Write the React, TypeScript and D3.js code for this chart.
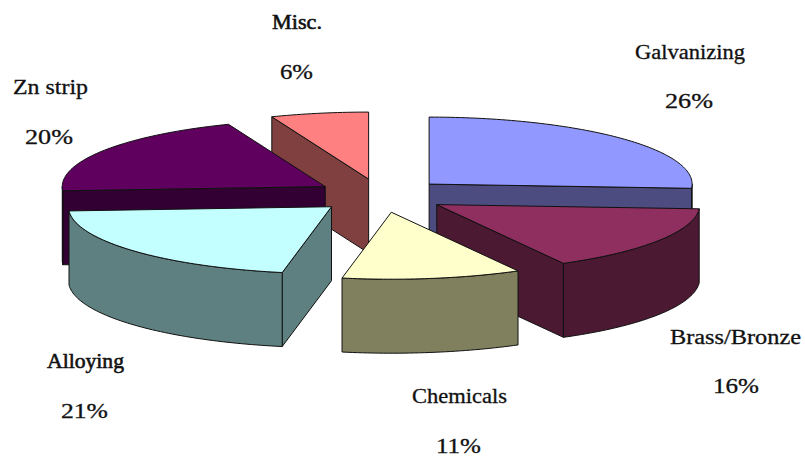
import React from "react";
import * as d3 from "d3";

const categories = ["Galvanizing", "Brass/Bronze", "Chemicals", "Alloying", "Zn strip", "Misc."];
const shares = [26, 16, 11, 21, 20, 6];
const topColors = ["#9198ff", "#8f2f5f", "#ffffcc", "#c4ffff", "#5f005f", "#ff8080"];
const wallColors = ["#4c4c80", "#4c1933", "#80805f", "#5f8080", "#330033", "#804040"];

// painter's order, by index into categories
const paintOrder = [5, 4, 3, 0, 1, 2];

// label layout: left edge, right edge, baseline
const nameBoxes = [
  [635, 745, 59],
  [670, 801, 344],
  [412, 507, 403],
  [47, 124, 368],
  [13, 88, 94],
  [272, 322, 29],
];
const percentBoxes = [
  [665, 713, 108],
  [713, 759, 393],
  [436, 481, 453],
  [61, 108, 418],
  [25, 73, 144],
  [280, 313, 79],
];

const W = 805;
const H = 459;
const CX = 381;
const CY = 195.6;
const RX = 263;
const RY = 67;
const DEPTH = 74;
const EXPLODE = 66;

const sx = d3.scaleLinear().domain([-1, 1]).range([-RX, RX]);
const sy = d3.scaleLinear().domain([-1, 1]).range([-RY, RY]);
const line = d3.line<[number, number]>();

const pie = d3.pie<number>().sort(null).value((d) => d);
const arcs = pie(shares);

function rimPoint(a: number, ox: number, oy: number): [number, number] {
  return [ox + sx(Math.sin(a)), oy - sy(Math.cos(a))];
}

function rim(a0: number, a1: number, ox: number, oy: number): [number, number][] {
  const n = Math.max(2, Math.ceil(Math.abs(a1 - a0) / 0.02));
  return d3.range(n + 1).map((i) => rimPoint(a0 + ((a1 - a0) * i) / n, ox, oy));
}

function Slice({ i }: { i: number }) {
  const { startAngle: a0, endAngle: a1 } = arcs[i];
  const mid = (a0 + a1) / 2;
  const ox = CX + (EXPLODE * sx(Math.sin(mid))) / RX;
  const oy = CY - (EXPLODE * sy(Math.cos(mid))) / RX;
  const apex: [number, number] = [ox, oy];
  const down = (p: [number, number]): [number, number] => [p[0], p[1] + DEPTH];

  const walls: [number, number][][] = [];
  if (Math.sin(a0) < -1e-6) {
    const p = rimPoint(a0, ox, oy);
    walls.push([apex, p, down(p), down(apex)]);
  }
  if (Math.sin(a1) > 1e-6) {
    const p = rimPoint(a1, ox, oy);
    walls.push([apex, p, down(p), down(apex)]);
  }
  const f0 = Math.max(a0, Math.PI / 2);
  const f1 = Math.min(a1, (3 * Math.PI) / 2);
  if (f1 > f0) {
    const top = rim(f0, f1, ox, oy);
    walls.push([...top, ...top.slice().reverse().map(down)]);
  }
  const topFace = [apex, ...rim(a0, a1, ox, oy)];
  const stroke = "#111";
  return (
    <g>
      {walls.map((w, k) => (
        <path key={k} d={line(w) + "Z"} fill={wallColors[i]} stroke={stroke} strokeWidth={1} strokeLinejoin="round" />
      ))}
      <path d={line(topFace) + "Z"} fill={topColors[i]} stroke={stroke} strokeWidth={1} strokeLinejoin="round" />
    </g>
  );
}

const textStyle = { fontFamily: "'Liberation Serif', serif", fontSize: 20, fill: "#111", stroke: "#111" };

export default function App() {
  return (
    <svg
      width={W}
      height={H}
      viewBox={`0 0 ${W} ${H}`}
      style={{ position: "absolute", left: 0, top: 0, background: "#fff" }}
    >
      {paintOrder.map((i) => (
        <Slice key={i} i={i} />
      ))}
      {categories.map((c, i) => (
        <g key={c} style={textStyle}>
          <text
            x={nameBoxes[i][0]}
            y={nameBoxes[i][2]}
            textLength={nameBoxes[i][1] - nameBoxes[i][0]}
            lengthAdjust="spacingAndGlyphs"
            strokeWidth={i === 5 || i === 3 ? 0.55 : 0.3}
          >
            {c}
          </text>
          <text
            x={percentBoxes[i][0]}
            y={percentBoxes[i][2]}
            textLength={percentBoxes[i][1] - percentBoxes[i][0]}
            lengthAdjust="spacingAndGlyphs"
            strokeWidth={0.3}
          >
            {shares[i]}%
          </text>
        </g>
      ))}
    </svg>
  );
}
